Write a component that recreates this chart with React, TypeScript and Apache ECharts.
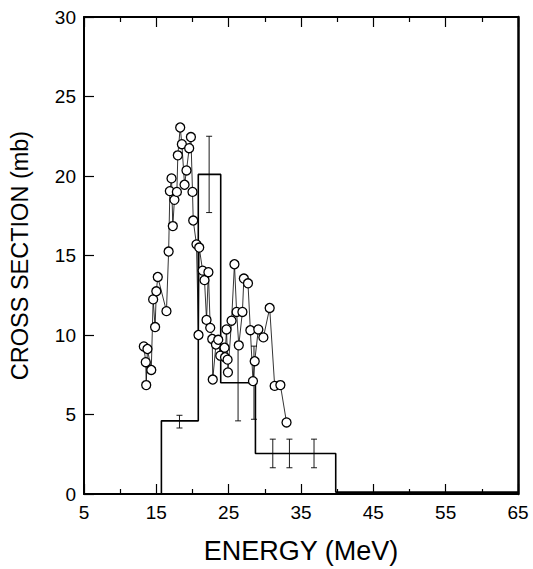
import React, { useEffect, useRef } from "react";
import * as echarts from "echarts";

// Measured cross-section points (energy MeV, cross section mb)
const energies = [
  13.27, 13.54, 13.6, 13.77, 14.3, 14.56, 14.83, 15.0, 15.2, 16.4,
  16.7, 16.87, 17.1, 17.28, 17.5, 17.84, 17.97, 18.3, 18.53, 18.9,
  19.17, 19.54, 19.78, 20.0, 20.1, 20.55, 20.83, 20.93, 21.4, 21.66,
  21.94, 22.2, 22.45, 22.73, 22.8, 23.24, 23.56, 23.84, 24.43, 24.5,
  24.7, 24.85, 24.9, 25.4, 25.8, 26.1, 26.4, 26.9, 27.1, 27.67,
  28.0, 28.36, 28.6, 29.1, 29.8, 30.67, 31.36, 32.15, 33.0,
];
const sections = [
  9.28, 8.29, 6.85, 9.12, 7.8, 12.24, 10.5, 12.75, 13.65, 11.5,
  15.25, 19.05, 19.85, 16.85, 18.5, 19.0, 21.3, 23.05, 22.0, 19.45,
  20.35, 21.75, 22.45, 19.0, 17.2, 15.7, 10.0, 15.5, 14.05, 13.45,
  10.95, 13.95, 10.45, 9.75, 7.2, 9.4, 9.7, 8.7, 9.2, 8.6,
  10.35, 8.45, 7.65, 10.9, 14.45, 11.45, 9.35, 11.45, 13.55, 13.25,
  10.3, 7.1, 8.35, 10.35, 9.85, 11.7, 6.8, 6.85, 4.5,
];

// Histogram bins (edges in MeV, heights in mb)
const binEdges = [15.7, 20.8, 23.9, 28.7, 39.8, 65];
const binHeights = [4.6, 20.1, 7.0, 2.55, 0.12];

// Error bars: energy, low, high
const errEnergy = [18.2, 22.3, 26.3, 28.5, 31.1, 33.4, 36.8];
const errLow = [4.15, 17.7, 4.6, 4.7, 1.65, 1.65, 1.65];
const errHigh = [4.95, 22.5, 9.4, 9.3, 3.45, 3.45, 3.45];

const FONT = "Liberation Sans";

export default function App() {
  const ref = useRef<HTMLDivElement>(null);
  useEffect(() => {
    if (!ref.current) return;
    const chart = echarts.init(ref.current, null, { renderer: "svg" });

    const pts = energies.map((e, i) => [e, sections[i]]);
    const hist: number[][] = [[binEdges[0], 0]];
    binHeights.forEach((h, i) => {
      hist.push([binEdges[i], h]);
      hist.push([binEdges[i + 1], h]);
    });
    const errs = errEnergy.map((e, i) => [e, errLow[i], errHigh[i]]);

    const axisLine = { show: true, onZero: false, lineStyle: { color: "#000", width: 2 } };
    const tick = { show: true, inside: true, length: 10, lineStyle: { color: "#000", width: 1.2 } };
    const minor = { show: true, splitNumber: 2, length: 5, lineStyle: { color: "#000", width: 1.2 } };

    chart.setOption({
      animation: false,
      backgroundColor: "#fff",
      grid: { left: 84, right: 15, top: 17, bottom: 66, containLabel: false },
      xAxis: [
        {
          type: "value",
          min: 5,
          max: 65,
          interval: 10,
          position: "bottom",
          axisLine,
          splitLine: { show: false },
          axisTick: tick,
          minorTick: minor,
          minorSplitLine: { show: false },
          axisLabel: { color: "#000", fontSize: 19, fontFamily: FONT, margin: 9 },
          name: "ENERGY (MeV)",
          nameLocation: "middle",
          nameGap: 43,
          nameTextStyle: { color: "#000", fontSize: 27, fontFamily: FONT },
        },
        {
          type: "value",
          min: 5,
          max: 65,
          interval: 10,
          position: "top",
          axisLine,
          splitLine: { show: false },
          axisTick: tick,
          minorTick: minor,
          minorSplitLine: { show: false },
          axisLabel: { show: false },
        },
      ],
      yAxis: [
        {
          type: "value",
          min: 0,
          max: 30,
          interval: 5,
          position: "left",
          axisLine,
          splitLine: { show: false },
          axisTick: tick,
          axisLabel: { color: "#000", fontSize: 19, fontFamily: FONT, margin: 8 },
          name: "CROSS SECTION (mb)",
          nameLocation: "middle",
          nameGap: 52,
          nameTextStyle: { color: "#000", fontSize: 23.5, fontFamily: FONT },
        },
        {
          type: "value",
          min: 0,
          max: 30,
          interval: 5,
          position: "right",
          axisLine: { show: true, onZero: false, lineStyle: { color: "#000", width: 2.5 } },
          splitLine: { show: false },
          axisTick: { show: false },
          axisLabel: { show: false },
        },
      ],
      series: [
        {
          type: "line",
          data: hist,
          symbol: "none",
          lineStyle: { color: "#000", width: 1.6 },
          z: 2,
        },
        {
          type: "custom",
          data: errs,
          encode: { x: 0, y: [1, 2] },
          z: 3,
          renderItem: (params: any, api: any) => {
            const lo = api.coord([api.value(0), api.value(1)]);
            const hi = api.coord([api.value(0), api.value(2)]);
            const c = 3;
            const st = { stroke: "#000", lineWidth: 0.9 };
            return {
              type: "group",
              children: [
                { type: "line", shape: { x1: lo[0], y1: lo[1], x2: hi[0], y2: hi[1] }, style: st },
                { type: "line", shape: { x1: lo[0] - c, y1: lo[1], x2: lo[0] + c, y2: lo[1] }, style: st },
                { type: "line", shape: { x1: hi[0] - c, y1: hi[1], x2: hi[0] + c, y2: hi[1] }, style: st },
              ],
            };
          },
        },
        {
          type: "line",
          data: pts,
          symbol: "circle",
          symbolSize: 9,
          showAllSymbol: true,
          itemStyle: { color: "#fff", borderColor: "#000", borderWidth: 1.3 },
          lineStyle: { color: "#000", width: 0.8 },
          z: 5,
        },
      ],
    });
    return () => chart.dispose();
  }, []);
  return (
    <div
      ref={ref}
      style={{ position: "fixed", left: 0, top: 0, width: 533, height: 569, background: "#fff" }}
    />
  );
}
